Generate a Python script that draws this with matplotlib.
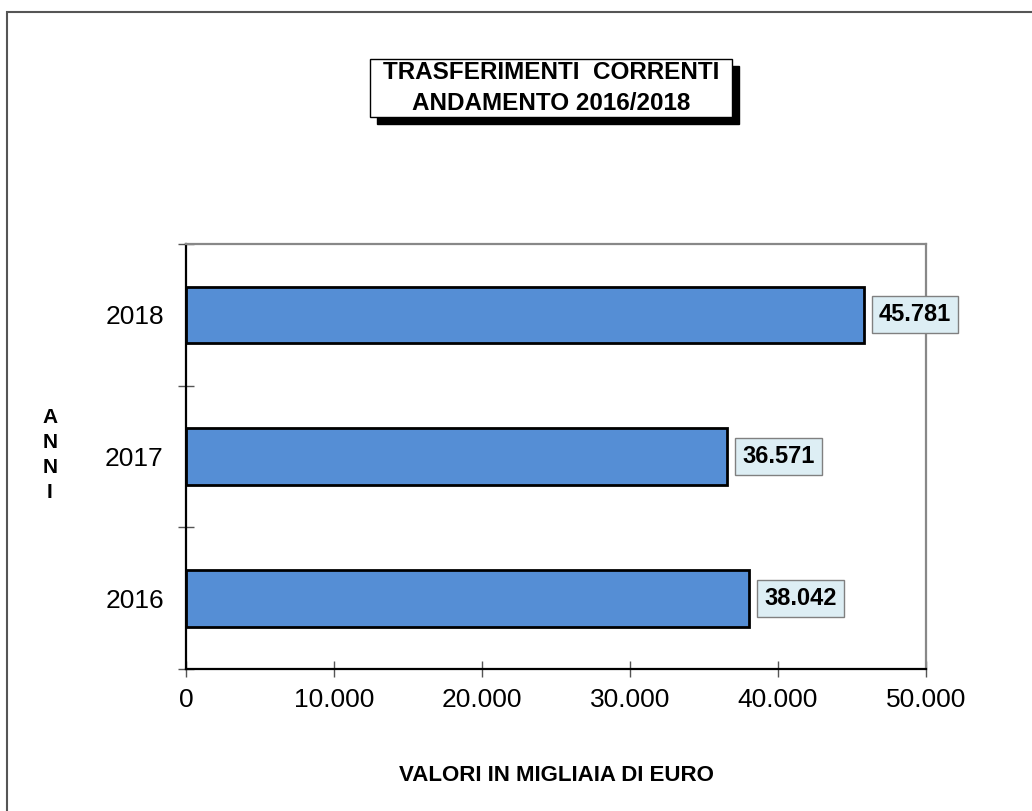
import matplotlib
matplotlib.use('Agg')
import matplotlib.pyplot as plt
import matplotlib.transforms as mtransforms
from matplotlib.patches import Rectangle
from matplotlib.ticker import FixedLocator, FuncFormatter

plt.rcParams['font.family'] = ['Liberation Sans', 'DejaVu Sans']

anni = ['2016', '2017', '2018']
valori = [38042, 36571, 45781]
etichette = ['38.042', '36.571', '45.781']
xticks = [0, 10000, 20000, 30000, 40000, 50000]

fig = plt.figure(figsize=(10.32, 8.11), dpi=100)
ax = fig.add_axes([186 / 1032, 142 / 811, 740 / 1032, 425 / 811])

pos = list(range(len(anni)))
ax.barh(pos, valori, height=0.4, color='#558ED5', edgecolor='black', linewidth=2, zorder=3)

for p, v, lab in zip(pos, valori, etichette):
    ax.annotate(lab, (v, p), xytext=(11, 0), textcoords='offset points',
                ha='left', va='center', fontsize=17, fontweight='bold',
                bbox=dict(boxstyle='square,pad=0.3', fc='#DDEEF4', ec='#808080', lw=1),
                zorder=5, annotation_clip=False)

ax.set_xlim(0, 50000)
ax.set_ylim(-0.5, 2.5)

ax.set_yticks(pos)
ax.set_yticklabels(anni, fontsize=19)
ax.yaxis.set_minor_locator(FixedLocator([-0.5, 0.5, 1.5, 2.5]))
ax.tick_params(axis='y', which='major', length=0, pad=16)
ax.tick_params(axis='y', which='minor', direction='inout', length=12, width=1, color='#555555')

ax.set_xticks(xticks)
ax.xaxis.set_major_formatter(FuncFormatter(lambda x, _: f'{int(x):,}'.replace(',', '.')))
ax.tick_params(axis='x', direction='inout', length=12, width=1, color='#555555', labelsize=19, pad=8)

for s in ['left', 'bottom']:
    ax.spines[s].set_color('black')
    ax.spines[s].set_linewidth(1.6)
for s in ['top', 'right']:
    ax.spines[s].set_color('#888888')
    ax.spines[s].set_linewidth(1.6)

ax.set_xlabel('VALORI IN MIGLIAIA DI EURO', fontsize=16, fontweight='bold', labelpad=38)
fig.text(50 / 1032, 1 - 455 / 811, 'A\nN\nN\nI', ha='center', va='center',
         fontsize=15, fontweight='bold', linespacing=1.4)

# title with framed box and drop shadow
titolo = 'TRASFERIMENTI  CORRENTI\nANDAMENTO 2016/2018'
t = fig.text(551 / 1032, 1 - 88 / 811, titolo, ha='center', va='center', fontsize=17.5,
             fontweight='bold', linespacing=1.4, zorder=5)
fig.canvas.draw()
bb = t.get_window_extent()
idt = mtransforms.IdentityTransform()
bx, by, bw, bh = bb.x0 - 13, bb.y0 - 2, bb.width + 26, bb.height + 4
fig.add_artist(Rectangle((bx + 7, by - 7), bw, bh, transform=idt, fc='black', ec='black', zorder=3))
fig.add_artist(Rectangle((bx, by), bw, bh, transform=idt, fc='white', ec='black', lw=1, zorder=4))

# outer frame (only left and top edges visible)
fig.patches.append(Rectangle((7 / 1032, -0.1), 1.2, 1.1 - 12 / 811, transform=fig.transFigure,
                             fill=False, ec='#555555', lw=1.5))

fig.savefig('out.png', dpi=100)
